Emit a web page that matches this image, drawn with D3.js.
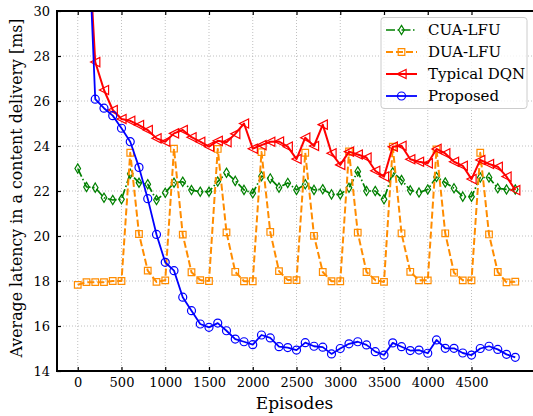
<!DOCTYPE html>
<html>
<head>
<meta charset="utf-8">
<script src="https://cdn.jsdelivr.net/npm/d3@7"></script>
<style>
  html, body { margin: 0; padding: 0; background: #fff; }
  svg { display: block; overflow: hidden; }
  text { font-family: "DejaVu Serif", serif; fill: #000; }
</style>
</head>
<body>
<svg id="chart" width="533" height="416"></svg>
<script>
// ---------------- data ----------------
const episodes = [0,100,200,300,400,500,600,700,800,900,1000,1100,1200,1300,1400,1500,1600,1700,1800,1900,2000,2100,2200,2300,2400,2500,2600,2700,2800,2900,3000,3100,3200,3300,3400,3500,3600,3700,3800,3900,4000,4100,4200,4300,4400,4500,4600,4700,4800,4900,5000];

const cuaLfu = [23.0,22.18,22.15,21.7,21.6,21.63,22.77,22.37,22.3,21.6,21.92,22.37,22.41,22.04,21.97,21.97,22.42,22.81,22.45,22.05,21.9,22.66,22.56,22.15,22.36,22.05,22.3,22.05,22.08,21.85,21.85,22.14,22.87,22.0,22.0,21.63,22.83,22.49,22.03,21.93,22.07,22.62,22.38,22.12,21.75,21.75,22.6,22.6,22.12,22.07,22.07];

const duaLfu = [17.83,17.95,17.95,17.95,18.0,18.0,23.7,20.09,18.46,17.96,18.03,23.88,20.06,18.39,18.04,18.0,23.87,20.16,18.41,17.99,17.99,23.73,20.18,18.44,18.04,18.04,23.7,20.01,18.4,17.99,17.99,23.76,20.15,18.4,18.04,17.96,23.97,20.12,18.41,18.03,18.03,23.85,20.12,18.37,18.03,18.03,23.7,20.07,18.4,17.94,17.97];

const typicalDqn = [40.0,34.8,27.73,26.49,25.6,25.2,25.12,24.93,24.71,24.34,24.19,24.56,24.71,24.39,24.19,23.97,24.23,24.17,24.54,25.0,23.88,24.04,24.19,24.2,23.97,23.42,24.37,24.0,24.95,23.68,23.16,23.75,23.62,23.49,22.9,22.64,23.97,24.01,23.41,23.3,23.23,23.87,23.67,23.3,23.12,22.53,23.38,23.2,23.08,22.64,22.04];

const proposed = [40.0,35.5,26.08,25.68,25.35,24.79,24.19,23.05,21.66,20.07,18.83,18.46,17.28,16.68,16.09,15.94,16.13,15.79,15.42,15.3,15.17,15.6,15.47,15.08,15.04,14.93,15.26,15.1,15.06,14.76,15.0,15.21,15.3,15.16,14.86,14.71,15.25,15.08,14.91,14.93,14.79,15.38,15.01,15.01,14.8,14.71,15.0,15.1,14.96,14.74,14.61];

const xTicks = [0,500,1000,1500,2000,2500,3000,3500,4000,4500];
const yTicks = [14,16,18,20,22,24,26,28,30];
const seriesNames = ["CUA-LFU","DUA-LFU","Typical DQN","Proposed"];
const xLabel = "Episodes";
const yLabel = "Average latency in a content delivery [ms]";

// ---------------- layout ----------------
const svg = d3.select("#chart");
const L = 57, T = 11, B = 371, R = 536;
const x = d3.scaleLinear().domain([-237, 5237]).range([L, R]);
const y = d3.scaleLinear().domain([14, 30]).range([B, T]);

const series = [
  {name: seriesNames[0], values: cuaLfu, color: "#008000", dash: "9,2.5,1.5,2.5", width: 1.7, marker: "thin_diamond"},
  {name: seriesNames[1], values: duaLfu, color: "#ff8c00", dash: "7,3", width: 2, marker: "square"},
  {name: seriesNames[2], values: typicalDqn, color: "#ff0000", dash: null, width: 2, marker: "tri_left"},
  {name: seriesNames[3], values: proposed, color: "#0000ff", dash: null, width: 1.8, marker: "circle"}
];

function markerPath(type, cx, cy) {
  const p = d3.path();
  if (type === "circle") {
    const r = 4;
    p.moveTo(cx + r, cy); p.arc(cx, cy, r, 0, 2 * Math.PI);
  } else if (type === "square") {
    const s = 3.3;
    p.rect(cx - s, cy - s, 2 * s, 2 * s);
  } else if (type === "tri_left") {
    const s = 4.6;
    p.moveTo(cx - s, cy); p.lineTo(cx + s, cy - s); p.lineTo(cx + s, cy + s); p.closePath();
  } else if (type === "thin_diamond") {
    const h = 4.6, w = 2.8;
    p.moveTo(cx, cy - h); p.lineTo(cx + w, cy); p.lineTo(cx, cy + h); p.lineTo(cx - w, cy); p.closePath();
  }
  return p.toString();
}

// clip
svg.append("defs").append("clipPath").attr("id", "clip")
  .append("rect").attr("x", L).attr("y", T).attr("width", R - L).attr("height", B - T);

// grid
const grid = svg.append("g");
grid.selectAll(".gx").data(xTicks).join("line")
  .attr("x1", d => x(d)).attr("x2", d => x(d)).attr("y1", T).attr("y2", B)
  .attr("stroke", "#b0b0b0").attr("stroke-width", 0.8).attr("stroke-dasharray", "1,2");
grid.selectAll(".gy").data(yTicks).join("line")
  .attr("x1", L).attr("x2", R).attr("y1", d => y(d)).attr("y2", d => y(d))
  .attr("stroke", "#b0b0b0").attr("stroke-width", 0.8).attr("stroke-dasharray", "1,2");

// series
const plot = svg.append("g").attr("clip-path", "url(#clip)");
const line = d3.line().x((d, i) => x(episodes[i])).y(d => y(d));
series.forEach(s => {
  plot.append("path").datum(s.values)
    .attr("d", line).attr("fill", "none")
    .attr("stroke", s.color).attr("stroke-width", s.width)
    .attr("stroke-dasharray", s.dash).attr("stroke-linejoin", "round");
  plot.append("g").selectAll("path").data(s.values).join("path")
    .attr("d", (d, i) => markerPath(s.marker, x(episodes[i]), y(d)))
    .attr("fill", "none").attr("stroke", s.color).attr("stroke-width", 1.2);
});

// axes
const fmt = d3.format("d");
const axB = svg.append("g").attr("transform", `translate(0,${B})`)
  .call(d3.axisBottom(x).tickValues(xTicks).tickFormat(fmt).tickSizeInner(-4).tickSizeOuter(0).tickPadding(7));
const axL = svg.append("g").attr("transform", `translate(${L},0)`)
  .call(d3.axisLeft(y).tickValues(yTicks).tickFormat(fmt).tickSizeInner(-4).tickSizeOuter(0).tickPadding(7));
const axT = svg.append("g").attr("transform", `translate(0,${T})`)
  .call(d3.axisTop(x).tickValues(xTicks).tickSizeInner(-4).tickSizeOuter(0).tickFormat(""));
[axB, axL, axT].forEach(a => {
  a.select(".domain").remove();
  a.selectAll(".tick line").attr("stroke", "#000").attr("stroke-width", 1.2);
  a.selectAll("text").attr("font-family", "DejaVu Serif").attr("font-size", 13).attr("fill", "#000");
});

// spines
svg.append("line").attr("x1", L).attr("x2", L).attr("y1", T - 1).attr("y2", B + 1).attr("stroke", "#000").attr("stroke-width", 2);
svg.append("line").attr("x1", L - 1).attr("x2", R).attr("y1", B).attr("y2", B).attr("stroke", "#000").attr("stroke-width", 2);
svg.append("line").attr("x1", L - 1).attr("x2", R).attr("y1", T).attr("y2", T).attr("stroke", "#000").attr("stroke-width", 2);

// axis labels
svg.append("text").attr("x", (L + R) / 2 - 2).attr("y", 409).attr("text-anchor", "middle")
  .attr("font-size", 17).text(xLabel);
svg.append("text").attr("transform", `translate(22,188) rotate(-90)`)
  .attr("text-anchor", "middle").attr("font-size", 15.8).text(yLabel);

// legend
const lg = svg.append("g");
lg.append("rect").attr("x", 381).attr("y", 17.5).attr("width", 146).attr("height", 91)
  .attr("rx", 3).attr("fill", "#fff").attr("fill-opacity", 0.8)
  .attr("stroke", "#cccccc").attr("stroke-width", 1);
series.forEach((s, i) => {
  const cy = 30 + i * 22;
  lg.append("line").attr("x1", 386).attr("x2", 417).attr("y1", cy).attr("y2", cy)
    .attr("stroke", s.color).attr("stroke-width", s.width).attr("stroke-dasharray", s.dash);
  lg.append("path").attr("d", markerPath(s.marker, 401.5, cy))
    .attr("fill", "none").attr("stroke", s.color).attr("stroke-width", 1.2);
  lg.append("text").attr("x", 428).attr("y", cy + 5).attr("font-size", 15).text(s.name);
});
</script>
</body>
</html>
